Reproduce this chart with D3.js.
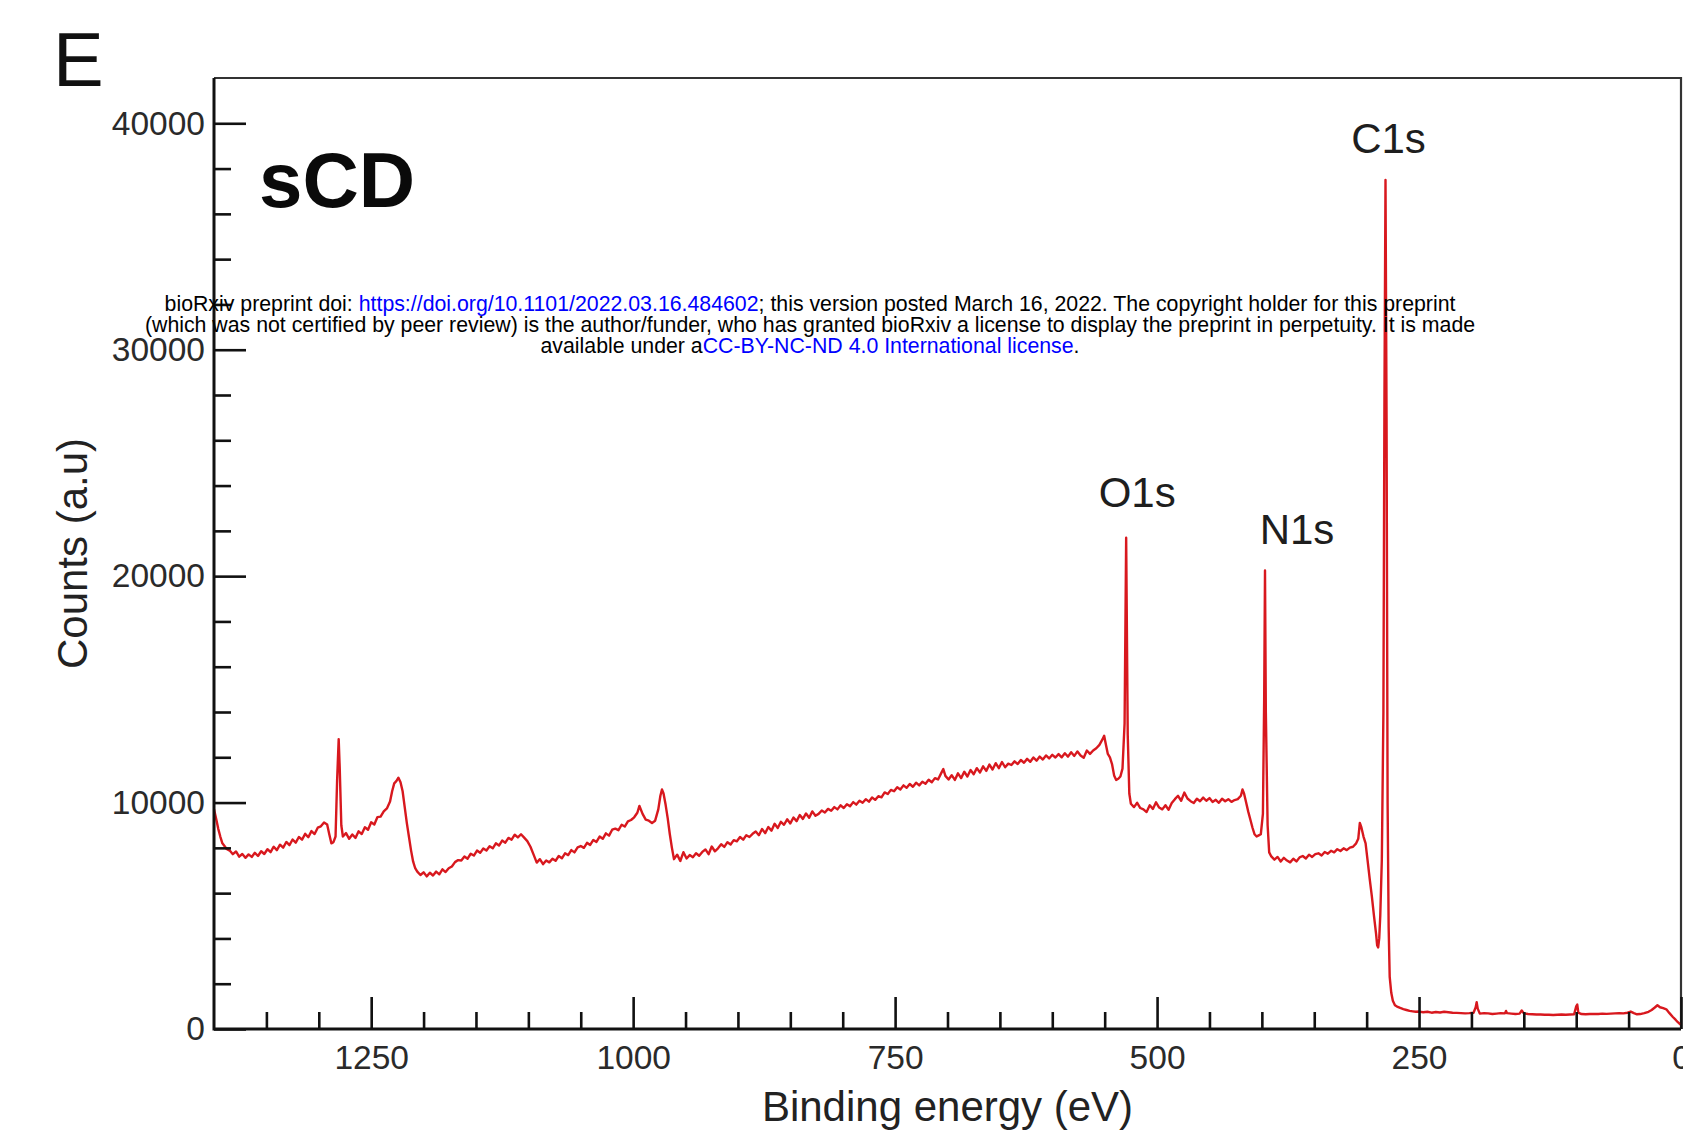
<!DOCTYPE html>
<html>
<head>
<meta charset="utf-8">
<script src="https://cdn.jsdelivr.net/npm/d3@7"></script>
<style>
  html, body { margin: 0; padding: 0; background: #fff; }
  svg { display: block; }
  text { font-family: "Liberation Sans", Arial, Helvetica, sans-serif; }
</style>
</head>
<body>
<svg id="chart" width="1683" height="1145"></svg>
<script>
// XPS survey spectrum of sCD: [binding energy (eV), counts (a.u.)]
const regionHighBE = [
  [1400,9700],[1398,9300],[1396,8850],[1394,8500],[1392,8200],[1390,8080],[1388,7950],[1385,7880],
  [1382,7720],[1379,7840],[1376,7610],[1373,7730],[1370,7560],[1367,7710],[1364,7600],[1361,7780],
  [1358,7640],[1355,7850],[1352,7730],[1349,7940],[1346,7810],[1343,8050],[1340,7900],[1337,8140],
  [1334,8010],[1331,8260],[1328,8120],[1325,8370],[1322,8230],[1319,8480],[1316,8360],[1313,8620],
  [1310,8470],[1307,8740],[1304,8610],[1301,8890],[1298,8950],[1295,9120],[1292,9030],[1290,8600],
  [1288,8200],[1286,8250],[1284,8500],[1282.5,11000],[1281,12800],[1280,11500],[1278.5,9000],[1277,8500],
  [1274,8650],[1271,8400],[1268,8590],[1265,8440],[1262,8730],[1259,8610],[1256,8910],[1253,8800],
  [1250,9130],[1247,9030],[1244,9360],[1241,9380],[1238,9610],[1235,9740],[1232,10050],[1230,10500],
  [1228,10850],[1226,10950],[1224,11100],[1222,10900],[1220,10500],[1218,9800],[1216,9100],[1214,8500],
  [1212,7900],[1210,7400],[1208,7100],[1206,6950],[1203,6800],[1200,6920],[1197,6740],[1194,6900],
  [1191,6780],[1188,6950],[1185,6830],[1182,7050],[1179,6930],[1176,7100],[1173,7180],[1170,7370],
  [1167,7460],[1164,7440],[1161,7620],[1158,7520],[1155,7740],[1152,7660],[1149,7880],[1146,7780],
  [1143,7970],[1140,7880],[1137,8070],[1134,7980],[1131,8200],[1128,8100],[1125,8320],[1122,8230],
  [1119,8440],[1116,8360],[1113,8580],[1110,8460],[1107,8600],[1104,8450],[1101,8300]
];

const regionMidBE = [
  [1098,8050],[1095,7700],[1092,7350],[1089,7500],[1086,7280],[1083,7440],[1080,7360],[1077,7520],
  [1074,7430],[1071,7640],[1068,7540],[1065,7760],[1062,7680],[1059,7900],[1056,7800],[1053,8020],
  [1050,8080],[1047,8000],[1044,8220],[1041,8130],[1038,8350],[1035,8260],[1032,8500],[1029,8400],
  [1026,8640],[1023,8540],[1020,8800],[1017,8850],[1014,8780],[1011,9020],[1008,8940],[1005,9170],
  [1002,9230],[999,9350],[996,9550],[994,9850],[991,9500],[988,9250],[985,9200],[982,9100],
  [979,9200],[976,9700],[974,10300],[972.5,10580],[971,10400],[969,9900],[967,9300],[965,8600],
  [963,8000],[961,7500],[958,7700],[955,7420],[952,7810],[949,7530],[946,7680],[943,7590],
  [940,7760],[937,7650],[934,7820],[931,7930],[928,7720],[925,8060],[922,7850],[919,7980],
  [916,8160],[913,8040],[910,8250],[907,8150],[904,8340],[901,8290],[898,8480],[895,8360],
  [892,8560],[889,8480],[886,8620],[883,8720],[880,8560],[877,8830],[874,8650],[871,8920],
  [868,8760],[865,9060],[862,8880],[859,9150],[856,9020],[853,9260],[850,9080],[847,9340],
  [844,9180],[841,9450],[838,9280],[835,9520],[832,9330],[829,9610],[826,9420],[823,9500],
  [820,9650],[817,9560],[814,9720],[811,9640],[808,9800],[805,9700],[802,9880],[799,9760],
  [796,9930],[793,9840],[790,10020],[787,9910],[784,10080],[781,9990],[778,10150],[775,10040],
  [772,10220],[769,10120],[766,10280],[763,10230],[760,10450],[757,10380],[754,10560],[751,10500],
  [748,10680],[745,10580],[742,10760],[739,10650],[736,10820],[733,10700],[730,10880],[727,10760],
  [724,10920],[721,10830],[718,11010],[715,10900],[712,11080],[709,11020],[706,11300],[704,11480],
  [702,11180],[699,11020],[696,11210],[693,11000],[690,11290],[687,11080],[684,11360],[681,11150],
  [678,11440],[675,11250],[672,11520],[669,11330],[666,11600],[663,11400],[660,11680],[657,11460],
  [654,11740],[651,11520],[648,11790],[645,11560],[642,11720],[639,11660],[636,11820],[633,11700],
  [630,11880],[627,11760],[624,11930],[621,11800],[618,11990],[615,11850],[612,12030],[609,11900],
  [606,12080],[603,11950],[600,12110],[597,11990],[594,12140],[591,12000],[588,12180],[585,12030],
  [582,12220],[579,12060],[576,12260],[573,12080],[570,11980],[567,12300],[564,12150]
];

const regionCoreLines = [
  [561,12300],[558,12400],[555,12550],[552,12800],[550.5,12950],[549,12600],[547,12150],[545,12000],
  [543,11700],[541,11200],[539,11000],[537,11050],[535,11150],[533,11500],[531,13500],[529.5,21700],
  [528,13000],[526.5,10400],[525,9950],[522,9800],[519,9990],[516,9760],[513,9700],[510,9580],
  [507,9880],[504,9720],[501,10010],[498,9780],[495,9700],[492,9880],[489,9680],[486,9980],
  [483,10150],[480,10300],[477,10080],[474,10440],[471,10180],[468,10060],[465,9980],[462,10170],
  [459,10060],[456,10220],[453,10080],[450,10200],[447,10030],[444,10120],[441,9990],[438,10170],
  [435,10060],[432,10150],[429,10030],[426,10110],[423,10150],[420,10300],[418.5,10580],[417,10400],
  [415,10000],[413,9600],[411,9250],[409,8900],[407,8600],[405,8500],[403,8550],[401,8600],
  [399,9500],[397.8,14500],[397,20250],[396.2,14000],[394.5,9000],[393,7800],[391,7620],[388,7480],
  [385,7600],[382,7400],[379,7560],[376,7440],[373,7360],[370,7520],[367,7400],[364,7580],
  [361,7640],[358,7530],[355,7700],[352,7600],[349,7720],[346,7760],[343,7660],[340,7820],
  [337,7740],[334,7870],[331,7800],[328,7940],[325,7860],[322,7980],[319,7900],[316,8010],
  [313,8050],[310,8200],[308,8400],[306.5,9100],[305,8900],[303,8500],[301,8200]
];

const regionLowBE = [
  [299,7400],[297,6600],[295,5850],[293,5000],[291,4200],[290,3700],[289,3600],[288,4000],
  [287,5000],[285.5,7500],[284,14000],[283,28000],[282,37500],[281,27000],[280,10000],[279,4500],
  [278,2300],[276.5,1600],[275,1250],[273,1050],[271,990],[268,930],[265,880],[262,840],
  [259,800],[256,780],[253,760],[250,770],[246,740],[242,760],[238,720],[234,750],
  [230,730],[226,760],[222,740],[218,720],[214,710],[210,700],[206,690],[202,700],
  [198,720],[196,950],[195,1180],[194,900],[192,680],[188,700],[184,690],[180,660],
  [176,680],[172,700],[168,690],[167,800],[166,700],[162,680],[158,660],[154,680],
  [152,820],[150,690],[146,660],[142,650],[138,640],[134,640],[130,630],[126,630],
  [122,620],[118,630],[114,640],[110,630],[106,640],[102,650],[100,1000],[99,1080],
  [98,720],[95,660],[91,650],[87,660],[83,670],[79,660],[75,680],[71,670],
  [67,680],[63,690],[59,700],[55,690],[51,720],[48,770],[45,700],[42,650],
  [39,660],[35,700],[31,760],[28,840],[25,950],[22.5,1050],[20,960],[17,920],
  [14,870],[11,700],[8,540],[5,400],[3,300],[0.5,200]
];

const spectrum = [].concat(regionHighBE, regionMidBE, regionCoreLines, regionLowBE);

// Axis ticks
const xMajorTicks = [1250, 1000, 750, 500, 250, 0];
const xMinorTicks = [1350, 1300, 1200, 1150, 1100, 1050, 950, 900, 850, 800, 700, 650, 600,
                     550, 450, 400, 350, 300, 200, 150, 100, 50];
const yMajorTicks = [0, 10000, 20000, 30000, 40000];
const yMinorTicks = [2000, 4000, 6000, 8000, 12000, 14000, 16000, 18000, 22000, 24000, 26000,
                     28000, 32000, 34000, 36000, 38000];

// Photoelectron core-level peaks
const peakLabels = ["O1s", "N1s", "C1s"];
const peakEnergies = [529.5, 397, 282];
const peakCounts = [21700, 20250, 37500];

const svg = d3.select("#chart");
svg.append("rect").attr("width", 1683).attr("height", 1145).attr("fill", "#fff");

const plotLeft = 214, plotRight = 1681, plotTop = 78, plotBottom = 1029;
const x = d3.scaleLinear().domain([1400, 0]).range([plotLeft, plotRight]);
const y = d3.scaleLinear().domain([0, 42000]).range([plotBottom, plotTop]);

// frame (top and right)
svg.append("path")
  .attr("d", `M${plotLeft},${plotTop}H${plotRight}V${plotBottom}`)
  .attr("fill", "none").attr("stroke", "#333").attr("stroke-width", 2.2);

// spectrum line
const line = d3.line().x(d => x(d[0])).y(d => y(d[1]));
svg.append("path")
  .datum(spectrum)
  .attr("d", line)
  .attr("fill", "none")
  .attr("stroke", "#d8181e")
  .attr("stroke-width", 2.4)
  .attr("stroke-linejoin", "round");

// x axis
const fmt = d3.format("d");
const gx = svg.append("g").attr("transform", `translate(0,${plotBottom})`);
gx.call(d3.axisBottom(x).tickValues(xMajorTicks).tickFormat(fmt)
  .tickSizeInner(-32).tickSizeOuter(0).tickPadding(16));
const gxm = svg.append("g").attr("transform", `translate(0,${plotBottom})`);
gxm.call(d3.axisBottom(x).tickValues(xMinorTicks).tickSizeInner(-17).tickSizeOuter(0).tickFormat(""));

// y axis
const gy = svg.append("g").attr("transform", `translate(${plotLeft},0)`);
gy.call(d3.axisLeft(y).tickValues(yMajorTicks).tickFormat(fmt)
  .tickSizeInner(-32).tickSizeOuter(0).tickPadding(9));
const gym = svg.append("g").attr("transform", `translate(${plotLeft},0)`);
gym.call(d3.axisLeft(y).tickValues(yMinorTicks).tickSizeInner(-17).tickSizeOuter(0).tickFormat(""));

[gx, gxm, gy, gym].forEach(g => {
  g.select(".domain").remove();
  g.selectAll(".tick line").attr("stroke", "#111").attr("stroke-width", 2.6);
  g.selectAll(".tick text").attr("fill", "#2a2a2a").style("font-size", "33.5px")
    .style("font-family", "'Liberation Sans', Arial, sans-serif");
});

// left and bottom axis lines
svg.append("path")
  .attr("d", `M${plotLeft},${plotTop}V${plotBottom}H${plotRight}`)
  .attr("fill", "none").attr("stroke", "#111").attr("stroke-width", 3);

// axis titles
svg.append("text")
  .attr("x", (plotLeft + plotRight) / 2).attr("y", 1121)
  .attr("text-anchor", "middle")
  .attr("fill", "#222").style("font-size", "42px")
  .text("Binding energy (eV)");

svg.append("text")
  .attr("transform", `translate(87,${(plotTop + plotBottom) / 2}) rotate(-90)`)
  .attr("text-anchor", "middle")
  .attr("fill", "#222").style("font-size", "42px")
  .text("Counts (a.u)");

// peak labels
const labelShift = { O1s: 11, N1s: 32, C1s: 3 };
const labelLift = { O1s: 31, N1s: 26, C1s: 27 };
peakLabels.forEach((name, i) => {
  svg.append("text")
    .attr("x", x(peakEnergies[i]) + labelShift[name])
    .attr("y", y(peakCounts[i]) - labelLift[name])
    .attr("text-anchor", "middle")
    .attr("fill", "#1e1e1e").style("font-size", "42px")
    .text(name);
});

// panel letter and sample name
svg.append("text").attr("x", 53).attr("y", 86)
  .attr("fill", "#111").style("font-size", "76px").text("E");
svg.append("text").attr("x", 259).attr("y", 207)
  .attr("fill", "#0a0a0a").style("font-size", "78px").style("font-weight", "bold").text("sCD");

// preprint notice
const notice = svg.append("g").style("font-size", "21.3px").attr("text-anchor", "middle");
const l1 = notice.append("text").attr("x", 810).attr("y", 311).attr("fill", "#000");
l1.append("tspan").text("bioRxiv preprint doi: ");
l1.append("tspan").attr("fill", "#0000ff").text("https://doi.org/10.1101/2022.03.16.484602");
l1.append("tspan").text("; this version posted March 16, 2022. The copyright holder for this preprint");
notice.append("text").attr("x", 810).attr("y", 332).attr("fill", "#000")
  .text("(which was not certified by peer review) is the author/funder, who has granted bioRxiv a license to display the preprint in perpetuity. It is made");
const l3 = notice.append("text").attr("x", 810).attr("y", 353).attr("fill", "#000");
l3.append("tspan").text("available under a");
l3.append("tspan").attr("fill", "#0000ff").text("CC-BY-NC-ND 4.0 International license");
l3.append("tspan").text(".");
</script>
</body>
</html>
